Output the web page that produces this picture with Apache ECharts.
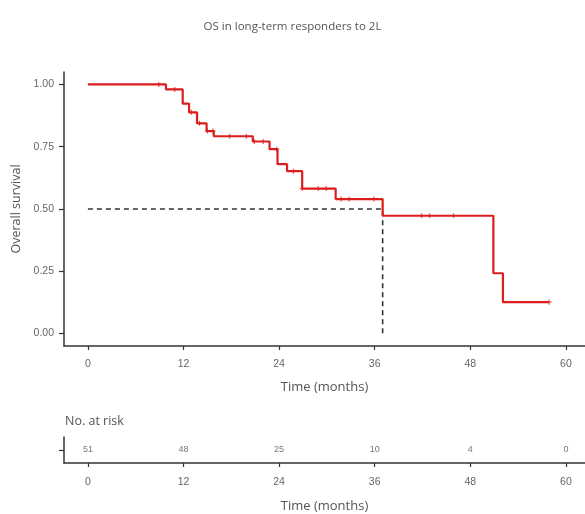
<!DOCTYPE html>
<html>
<head>
<meta charset="utf-8">
<script src="https://cdn.jsdelivr.net/npm/echarts@6/dist/echarts.min.js"></script>
<style>
  html, body { margin: 0; padding: 0; background: #fff; }
  #chart { width: 585px; height: 514px; }
</style>
</head>
<body>
<div id="chart"></div>
<script>
// Kaplan-Meier estimate: survival drops at each event time
const stepTimes = [0, 9.8, 11.9, 12.7, 13.7, 14.9, 15.8, 20.7, 22.8, 23.8, 25.0, 26.9, 31.1, 37.0, 50.9, 52.1];
const stepSurv  = [1.0, 0.98, 0.923, 0.888, 0.844, 0.813, 0.792, 0.771, 0.74, 0.68, 0.652, 0.582, 0.54, 0.473, 0.242, 0.126];
const lastFollowUp = 57.9;

// Censored observations (months)
const censorTimes = [8.9, 10.9, 13.0, 14.0, 15.0, 15.7, 17.8, 19.9, 20.9, 22.0, 23.7, 25.8, 26.9,
                     28.9, 29.9, 31.8, 32.8, 35.9, 41.9, 42.9, 45.9, 57.9];

// Median overall survival (months)
const medianTime = 37.0;
const medianLevel = 0.5;

// Number at risk table
const riskTimes  = [0, 12, 24, 36, 48, 60];
const riskCounts = [51, 48, 25, 10, 4, 0];

const xTicks = [0, 12, 24, 36, 48, 60];
const yTicks = [0, 0.25, 0.5, 0.75, 1.0];

function survAt(t) {
  let s = stepSurv[0];
  for (let i = 0; i < stepTimes.length; i++) {
    if (stepTimes[i] <= t) s = stepSurv[i];
  }
  return s;
}

const curve = stepTimes.map((t, i) => [t, stepSurv[i]]);
curve.push([lastFollowUp, survAt(lastFollowUp)]);
const censors = censorTimes.map(t => [t, survAt(t)]);
const medianPath = [[0, medianLevel], [medianTime, medianLevel], [medianTime, 0]];
const riskPoints = riskTimes.map((t, i) => [t, 0.5, riskCounts[i]]);

const axisDark = '#333';
const textGray = '#666';
const red = '#dc1d1d';

function timeAxis(grid, labelMargin, nameGap) {
  return {
    gridIndex: grid, type: 'value', min: -3, max: 62.4,
    axisLine: { show: true, onZero: false, lineStyle: { color: axisDark, width: 1.5 } },
    axisTick: { show: true, length: 4, customValues: xTicks, lineStyle: { color: axisDark, width: 1.2 } },
    axisLabel: { customValues: xTicks, color: textGray, fontSize: 10.5, fontFamily: 'Liberation Sans', margin: labelMargin },
    splitLine: { show: false },
    name: 'Time (months)', nameLocation: 'middle', nameGap: nameGap,
    nameTextStyle: { color: '#555', fontSize: 13, fontFamily: 'Open Sans' }
  };
}

const chart = echarts.init(document.getElementById('chart'), null, { renderer: 'canvas' });
chart.setOption({
  animation: false,
  backgroundColor: '#fff',
  title: {
    text: 'OS in long-term responders to 2L',
    left: 'center', top: 16,
    textStyle: { color: '#555', fontSize: 11.5, fontWeight: 'normal', fontFamily: 'Open Sans' }
  },
  graphic: [{
    type: 'text', left: 65, top: 415,
    style: { text: 'No. at risk', fill: '#555', fontSize: 12.5, fontFamily: 'Open Sans' }
  }],
  grid: [
    { left: 64, right: 0, top: 72, height: 274 },
    { left: 64, right: 0, top: 437, height: 26 }
  ],
  xAxis: [
    timeAxis(0, 13, 35),
    timeAxis(1, 14, 37)
  ],
  yAxis: [
    {
      gridIndex: 0, type: 'value', min: -0.05, max: 1.05,
      axisLine: { show: true, onZero: false, lineStyle: { color: axisDark, width: 1.5 } },
      axisTick: { show: true, length: 5, customValues: yTicks, lineStyle: { color: axisDark, width: 1.2 } },
      axisLabel: {
        customValues: yTicks, color: textGray, fontSize: 10.5, fontFamily: 'Liberation Sans', margin: 10,
        formatter: v => v.toFixed(2)
      },
      splitLine: { show: false },
      name: 'Overall survival', nameLocation: 'middle', nameGap: 40, nameRotate: 90,
      nameTextStyle: { color: '#555', fontSize: 12.5, fontFamily: 'Open Sans' }
    },
    {
      gridIndex: 1, type: 'value', min: 0, max: 1,
      axisLine: { show: true, onZero: false, lineStyle: { color: axisDark, width: 1.5 } },
      axisTick: { show: true, length: 5, customValues: [0.5], lineStyle: { color: axisDark, width: 1.2 } },
      axisLabel: { show: false },
      splitLine: { show: false }
    }
  ],
  series: [
    {
      type: 'line', xAxisIndex: 0, yAxisIndex: 0, data: medianPath,
      symbol: 'none', silent: true,
      lineStyle: { color: '#333', width: 1.6, type: [5, 4] }
    },
    {
      type: 'line', xAxisIndex: 0, yAxisIndex: 0, data: curve, step: 'end',
      symbol: 'none', lineStyle: { color: red, width: 2.2 }
    },
    {
      type: 'scatter', xAxisIndex: 0, yAxisIndex: 0, data: censors,
      symbol: 'path://M0,-1 L0,1 M-1,0 L1,0', symbolSize: 5,
      itemStyle: { color: red, borderColor: red, borderWidth: 1.2, opacity: 0.75 }
    },
    {
      type: 'scatter', xAxisIndex: 1, yAxisIndex: 1, data: riskPoints,
      symbolSize: 0,
      label: {
        show: true, position: 'inside', formatter: p => String(p.data[2]),
        color: '#555', fontSize: 9, fontFamily: 'Liberation Sans'
      }
    }
  ]
});
</script>
</body>
</html>
